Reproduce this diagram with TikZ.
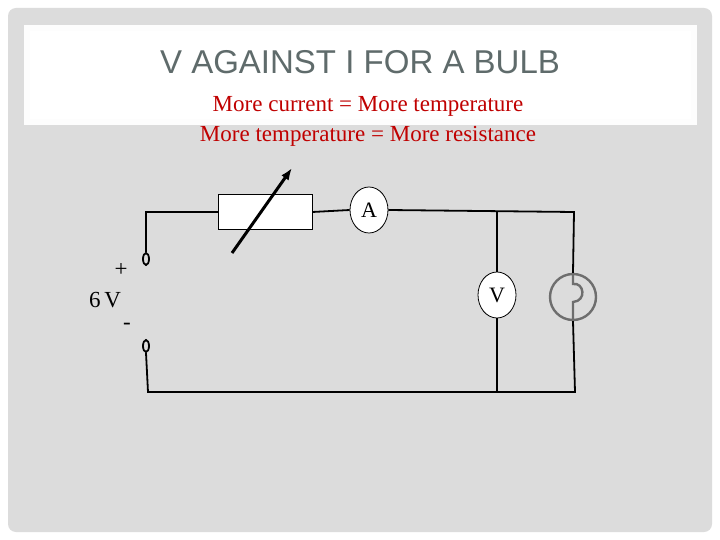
\documentclass[tikz,border=0pt]{standalone}
\usepackage{fontspec}
\setmainfont{Liberation Serif}
\setsansfont{Liberation Sans}
\usetikzlibrary{shapes.geometric,arrows.meta}
\definecolor{slidegrey}{HTML}{DCDCDC}
\definecolor{titlegrey}{HTML}{5F6B6B}
\definecolor{notered}{HTML}{C00000}
\definecolor{bulbgrey}{HTML}{6E6E6E}
\tikzstyle{wire} = [draw=black, line width=1.8pt]
\tikzstyle{meter} = [draw=black, fill=white, thick, ellipse, minimum width=38pt, minimum height=46pt, inner sep=0pt, font=\fontsize{22}{22}\selectfont]
\tikzstyle{terminal} = [draw=black, line width=1.8pt, ellipse, minimum width=6pt, minimum height=12pt, inner sep=0pt]

\begin{document}
\begin{tikzpicture}[x=1pt,y=-1pt]
\useasboundingbox (0,0) rectangle (720,540);
\fill [white] (0,0) rectangle (720,540);
\fill [slidegrey, rounded corners=8pt] (8,8) rectangle (712,532);
\fill [white!94!slidegrey] (24,25) rectangle (697,125);
\fill [white] (30,31) rectangle (691,119);
\node [text=titlegrey, font=\sffamily\fontsize{33}{33}\selectfont] (title) at (360,62) {V AGAINST I FOR A BULB};
\node [text=notered, font=\fontsize{23}{23}\selectfont] (line1) at (368,106) {More current = More temperature};
\node [text=notered, font=\fontsize{23}{23}\selectfont] (line2) at (368,136) {More temperature = More resistance};
% supply
\node [terminal] (plus) at (146,259) {};
\node [terminal] (minus) at (146,346) {};
\node [font=\fontsize{23}{23}\selectfont] (plussign) at (121,270) {+};
\node [font=\fontsize{23}{23}\selectfont] (supply) at (105,300) {6\,V};
\node [font=\fontsize{23}{23}\selectfont] (minussign) at (127,326) {-};
% components
\node [draw=black, fill=white, thick, minimum width=94pt, minimum height=35pt] (res) at (265,212) {};
\node [meter] (amm) at (369,210) {A};
\node [meter] (volt) at (497,295) {V};
\node [draw=bulbgrey, line width=2.4pt, circle, minimum size=46pt] (bulb) at (573,297) {};
\draw [bulbgrey, line width=2.4pt] (bulb.north) -- (573,284)
  .. controls (584,282) and (587,301) .. (573,302) -- (bulb.south);
\coordinate (tr) at (574,212);
\coordinate (br) at (575,392);
\coordinate (bl) at (148,392);
\coordinate (tj) at (497,212);
\coordinate (bj) at (497,392);
\draw [wire] (plus.north) |- (res.west);
\draw [wire] (res.east) -- (amm.west);
\draw [wire] (amm.east) -- (tr) -- (bulb.north);
\draw [wire] (bulb.south) -- (br) -- (bl) -- (minus.south);
\draw [wire] (tj) -- (volt.north);
\draw [wire] (volt.south) -- (bj);
\draw [-{Latex[length=12pt,width=9pt]}, line width=3pt] (232,253) -- (292,168);
\end{tikzpicture}
\end{document}
